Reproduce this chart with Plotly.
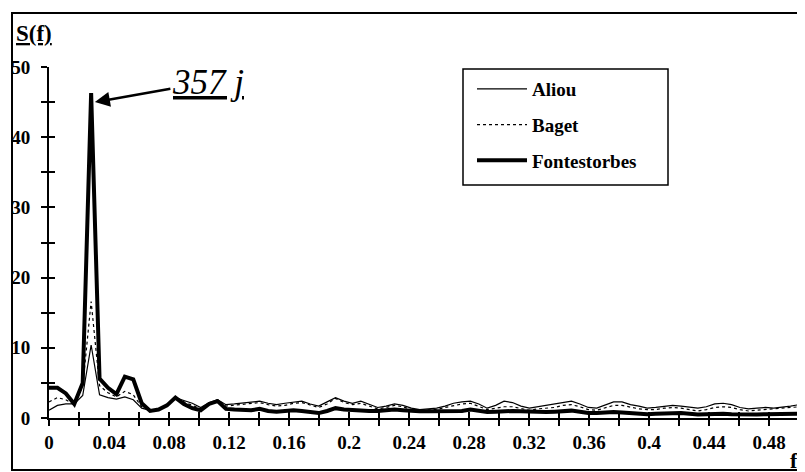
import plotly.graph_objects as go

N = 178
freq = [k / N for k in range(90)]

aliou = [1.1, 1.8, 2.0, 2.0, 3.2, 10.4, 3.3, 2.9, 2.7, 3.0,
         2.6, 1.4, 1.1, 1.3, 1.9, 2.9, 2.5, 2.1, 1.5, 2.2,
         2.6, 1.9, 2.0, 2.1, 2.2, 2.4, 2.1, 1.9, 2.1, 2.3,
         2.4, 2.0, 1.7, 2.3, 2.9, 2.4, 2.1, 2.4, 2.0, 1.5,
         1.7, 2.0, 1.8, 1.4, 1.2, 1.3, 1.4, 1.7, 2.1, 2.3,
         2.4, 2.0, 1.4, 1.8, 2.4, 2.2, 1.7, 1.4, 1.6, 1.7,
         1.9, 2.2, 2.4, 2.0, 1.5, 1.4, 1.8, 2.3, 2.3, 1.9,
         1.7, 1.4, 1.5, 1.7, 1.8, 1.7, 1.5, 1.4, 1.6, 2.0,
         2.1, 1.9, 1.5, 1.3, 1.4, 1.5, 1.4, 1.5, 1.7, 1.9]

baget = [2.3, 2.9, 2.6, 1.9, 4.5, 16.6, 4.6, 3.6, 3.0, 3.8,
         3.3, 1.6, 1.1, 1.3, 1.8, 2.8, 2.3, 1.8, 1.3, 2.0,
         2.6, 1.7, 1.8, 1.9, 2.0, 2.2, 1.9, 1.7, 1.8, 2.1,
         2.2, 1.8, 1.5, 2.0, 2.8, 2.2, 1.9, 2.1, 1.7, 1.3,
         1.5, 1.8, 1.6, 1.2, 1.1, 1.1, 1.2, 1.5, 1.8, 2.0,
         2.1, 1.7, 1.2, 1.4, 1.6, 1.6, 1.3, 1.1, 1.3, 1.4,
         1.5, 1.8, 1.9, 1.6, 1.2, 1.1, 1.4, 1.8, 1.8, 1.5,
         1.3, 1.2, 1.2, 1.4, 1.5, 1.4, 1.2, 1.0, 1.2, 1.5,
         1.6, 1.5, 1.2, 1.0, 1.1, 1.2, 1.2, 1.3, 1.5, 1.6]

fontestorbes = [4.3, 4.3, 3.5, 2.0, 5.0, 46.3, 5.6, 4.3, 3.4, 5.9,
                5.5, 2.1, 1.0, 1.2, 1.8, 2.9, 2.0, 1.4, 1.1, 2.0,
                2.4, 1.3, 1.2, 1.2, 1.1, 1.3, 1.0, 0.9, 1.0, 1.1,
                1.0, 0.8, 0.7, 1.0, 1.4, 1.2, 1.1, 1.05, 1.0, 1.0,
                1.1, 1.2, 1.1, 1.0, 0.95, 0.95, 0.95, 0.9, 0.9, 1.0,
                1.2, 1.0, 0.85, 0.9, 1.0, 1.0, 0.95, 0.9, 0.85, 0.85,
                0.9, 1.0, 1.05, 0.9, 0.7, 0.7, 0.8, 0.85, 0.8, 0.7,
                0.6, 0.55, 0.6, 0.65, 0.7, 0.7, 0.6, 0.5, 0.55, 0.6,
                0.6, 0.55, 0.5, 0.5, 0.5, 0.55, 0.55, 0.5, 0.55, 0.6]

x_tickvals = [0, 0.04, 0.08, 0.12, 0.16, 0.2, 0.24, 0.28, 0.32, 0.36, 0.4, 0.44, 0.48]
x_ticktext = ["0", "0.04", "0.08", "0.12", "0.16", "0.2", "0.24", "0.28", "0.32", "0.36", "0.4", "0.44", "0.48"]
y_tickvals = [0, 10, 20, 30, 40, 50]
y_ticktext = ["0", "10", "20", "30", "40", "50"]

FONT = "Liberation Serif"
TICKFONT = dict(family=FONT, size=19, color="black", weight="bold")

fig = go.Figure()
fig.add_trace(go.Scatter(x=freq, y=aliou, name="Aliou", mode="lines",
                         line=dict(color="black", width=1.2), legendgroup="a"))
fig.add_trace(go.Scatter(x=freq, y=baget, name="Baget", mode="lines",
                         line=dict(color="black", width=1.2, dash="dot"), legendgroup="b"))
fig.add_trace(go.Scatter(x=freq, y=fontestorbes, name="Fontestorbes", mode="lines",
                         line=dict(color="black", width=4), legendgroup="c"))
# dummy trace to render overlay axes (inside ticks -> crossing tick marks)
fig.add_trace(go.Scatter(x=[None], y=[None], xaxis="x2", yaxis="y2",
                         showlegend=False, hoverinfo="skip"))

# page body has an 8px offset; margins compensate so the plot area sits at window x 49..799, y 67..418
fig.update_layout(
    width=805, height=472,
    margin=dict(l=41, r=14, t=59, b=62, autoexpand=False),
    paper_bgcolor="white", plot_bgcolor="white",
    font=dict(family=FONT, color="black", size=19),
    showlegend=True,
    legend=dict(x=(472 - 49) / 750, y=(418 - 70) / 351, xanchor="left", yanchor="top",
                bgcolor="rgba(0,0,0,0)", borderwidth=0,
                font=dict(family=FONT, size=19, color="black", weight="bold"),
                tracegroupgap=8, itemwidth=50),
    xaxis=dict(range=[0, 0.5], tickvals=x_tickvals, ticktext=x_ticktext, automargin=False,
               showline=True, linecolor="black", linewidth=2, showgrid=False, zeroline=False,
               ticks="outside", ticklen=6, tickwidth=1.5, tickcolor="black",
               minor=dict(tickvals=[i * 0.02 for i in range(26)], ticks="outside", ticklen=6,
                          tickwidth=1.5, tickcolor="black", showgrid=False),
               tickfont=TICKFONT),
    yaxis=dict(range=[0, 50], tickvals=y_tickvals, ticktext=y_ticktext, automargin=False,
               showline=True, linecolor="black", linewidth=2, showgrid=False, zeroline=False,
               ticks="outside", ticklen=6, tickwidth=1.5, tickcolor="black",
               minor=dict(tickvals=[i * 5 for i in range(11)], ticks="outside", ticklen=6,
                          tickwidth=1.5, tickcolor="black", showgrid=False),
               ticklabelstandoff=7,
               tickfont=TICKFONT),
    xaxis2=dict(range=[0, 0.5], overlaying="x", anchor="y2", side="bottom", automargin=False,
                tickvals=[i * 0.02 for i in range(26)], ticks="inside", ticklen=6,
                tickwidth=1.5, tickcolor="black", showticklabels=False,
                showgrid=False, zeroline=False, showline=False),
    yaxis2=dict(range=[0, 50], overlaying="y", anchor="x2", side="left", automargin=False,
                tickvals=[i * 5 for i in range(11)], ticks="inside", ticklen=6,
                tickwidth=1.5, tickcolor="black", showticklabels=False,
                showgrid=False, zeroline=False, showline=False),
)

# outer frame
fig.add_shape(type="rect", xref="paper", yref="paper",
              x0=(12 - 49) / 750, x1=(803 - 49) / 750,
              y0=(418 - 470) / 351, y1=(418 - 13) / 351,
              line=dict(color="black", width=2), fillcolor="rgba(0,0,0,0)", layer="below")
# legend box
fig.add_shape(type="rect", xref="paper", yref="paper",
              x0=(463 - 49) / 750, x1=(668 - 49) / 750,
              y0=(418 - 185) / 351, y1=(418 - 69) / 351,
              line=dict(color="black", width=1.5), fillcolor="white", layer="below")

fig.add_annotation(xref="paper", yref="paper", x=(14 - 49) / 750, y=(418 - 33) / 351,
                   xanchor="left", yanchor="middle", showarrow=False,
                   text="<b><u>S(f)</u></b>", font=dict(family=FONT, size=23, color="black"))
fig.add_annotation(xref="paper", yref="paper", x=(800 - 49) / 750, y=(418 - 460) / 351,
                   xanchor="right", yanchor="middle", showarrow=False,
                   text="<b>f</b>", font=dict(family=FONT, size=22, color="black"))

fig.add_annotation(x=freq[5] + 0.0025, y=45.0, xref="x", yref="y",
                   text="<i><u>357 j</u></i>", font=dict(family=FONT, size=35, color="black"),
                   showarrow=True, arrowhead=2, arrowsize=1.2, arrowwidth=2.5, arrowcolor="black",
                   ax=113, ay=-20, standoff=0)

fig.write_html("out.html")
